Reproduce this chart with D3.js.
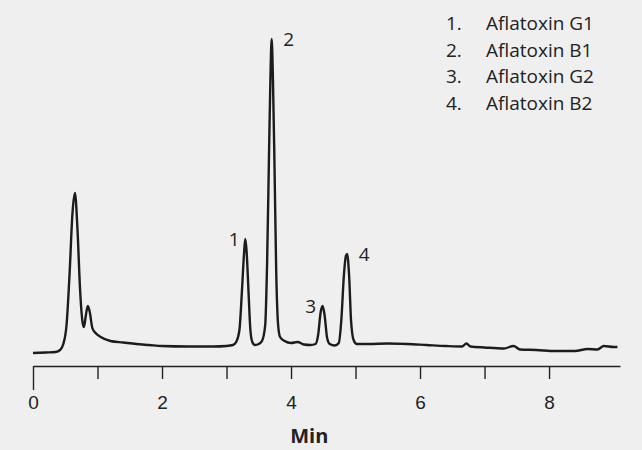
<!DOCTYPE html>
<html>
<head>
<meta charset="utf-8">
<script src="https://cdn.jsdelivr.net/npm/d3@7"></script>
<style>
  body { margin: 0; background: #efefef; }
  svg { display: block; font-family: "Open Sans", "Noto Sans", sans-serif; }
  .axis text { font-size: 19px; fill: #222; }
  .axis path, .axis line { stroke: #222; stroke-width: 1.4; }
</style>
</head>
<body>
<div id="chartDiv"></div>
<script>
// retention time (min) and detector signal
const times = [0.0, 0.2, 0.35, 0.42, 0.47, 0.52, 0.57, 0.61, 0.65, 0.69, 0.73, 0.77, 0.79, 0.82, 0.85, 0.88, 0.92, 0.97,
  1.05, 1.2, 1.4, 1.6, 1.8, 2.0, 2.4, 2.8, 3.0, 3.1, 3.15, 3.2, 3.24, 3.27, 3.29, 3.31, 3.34, 3.37, 3.4, 3.44,
  3.5, 3.55, 3.6, 3.63, 3.66, 3.68, 3.7, 3.72, 3.745, 3.77, 3.8, 3.83, 3.9, 4.0, 4.1, 4.2, 4.3, 4.38, 4.42, 4.46,
  4.49, 4.52, 4.56, 4.6, 4.68, 4.74, 4.78, 4.82, 4.85, 4.87, 4.9, 4.93, 4.97, 5.02, 5.2, 5.5, 5.8, 6.1, 6.4,
  6.65, 6.72, 6.78, 7.0, 7.3, 7.45, 7.55, 7.8, 8.1, 8.4, 8.6, 8.75, 8.85, 9.0, 9.06];
const signal = [0, 0.5, 1, 3, 9, 28, 83, 138, 160, 123, 63, 30, 26, 38, 47, 41, 25, 20,
  16, 12, 10.5, 9, 8, 7, 6.5, 6.5, 7, 8, 11, 23, 63, 98, 114, 103, 63, 23, 11, 8,
  9, 12, 28, 93, 203, 273, 314, 273, 183, 83, 28, 16, 12, 10, 11, 8.5, 8, 9, 18, 41,
  47, 38, 15, 9, 7.5, 10, 33, 78, 97, 99, 78, 33, 13, 9, 9, 9.5, 9, 8, 7,
  6.5, 9.5, 6.5, 5.5, 4.5, 7, 3.5, 3, 2, 2, 4, 3.5, 7, 6, 6];

// numbered peaks
const peakNums = ["1", "2", "3", "4"];
const peakTimes = [3.29, 3.70, 4.49, 4.87];
const peakHeights = [114, 314, 47, 99];
const compounds = ["Aflatoxin G1", "Aflatoxin B1", "Aflatoxin G2", "Aflatoxin B2"];

const xTicks = [0, 1, 2, 3, 4, 5, 6, 7, 8];

const width = 642, height = 450;
const svg = d3.select("#chartDiv").append("svg")
  .attr("width", width)
  .attr("height", height);

const x = d3.scaleLinear().domain([0, 9.1]).range([33, 620]);
const y = d3.scaleLinear().domain([0, 320]).range([353, 33]);

const trace = times.map((t, i) => ({t: t, v: signal[i]}));

const line = d3.line()
  .x(d => x(d.t))
  .y(d => y(d.v))
  .curve(d3.curveMonotoneX);

svg.append("path")
  .datum(trace)
  .attr("fill", "none")
  .attr("stroke", "#1c1c1c")
  .attr("stroke-width", 2.4)
  .attr("stroke-linejoin", "round")
  .attr("d", line);

// x axis
const xAxis = d3.axisBottom(x)
  .tickValues(xTicks)
  .tickSize(13)
  .tickSizeOuter(0)
  .tickFormat(d => d % 2 === 0 ? d : "");

const gx = svg.append("g")
  .attr("class", "axis")
  .attr("transform", "translate(0,366)")
  .call(xAxis);
gx.selectAll(".tick line").filter(d => d === 0).attr("y2", 24);
gx.selectAll(".tick text").attr("y", 30);

svg.append("text")
  .attr("x", x(4.5) - 14)
  .attr("y", 443)
  .attr("text-anchor", "middle")
  .style("font-size", "20px")
  .style("font-weight", "bold")
  .style("fill", "#222")
  .text("Min");

// peak numbers
const offs = [[-11, 2], [17, 2], [-12, 2], [17, 2]];
svg.selectAll("text.peak")
  .data(peakNums)
  .enter().append("text")
  .attr("class", "peak")
  .attr("x", (d, i) => x(peakTimes[i]) + offs[i][0])
  .attr("y", (d, i) => y(peakHeights[i]) + offs[i][1] + 5)
  .attr("text-anchor", "middle")
  .style("font-size", "19px")
  .style("fill", "#222")
  .text(d => d);

// legend
const leg = svg.append("g").attr("transform", "translate(446,30)");
leg.selectAll("text.num")
  .data(peakNums)
  .enter().append("text")
  .attr("class", "num")
  .attr("x", 0)
  .attr("y", (d, i) => i * 26.7)
  .style("font-size", "19px")
  .style("fill", "#222")
  .text(d => d + ".");
leg.selectAll("text.name")
  .data(compounds)
  .enter().append("text")
  .attr("class", "name")
  .attr("x", 40)
  .attr("y", (d, i) => i * 26.7)
  .style("font-size", "19px")
  .style("fill", "#222")
  .text(d => d);
</script>
</body>
</html>
